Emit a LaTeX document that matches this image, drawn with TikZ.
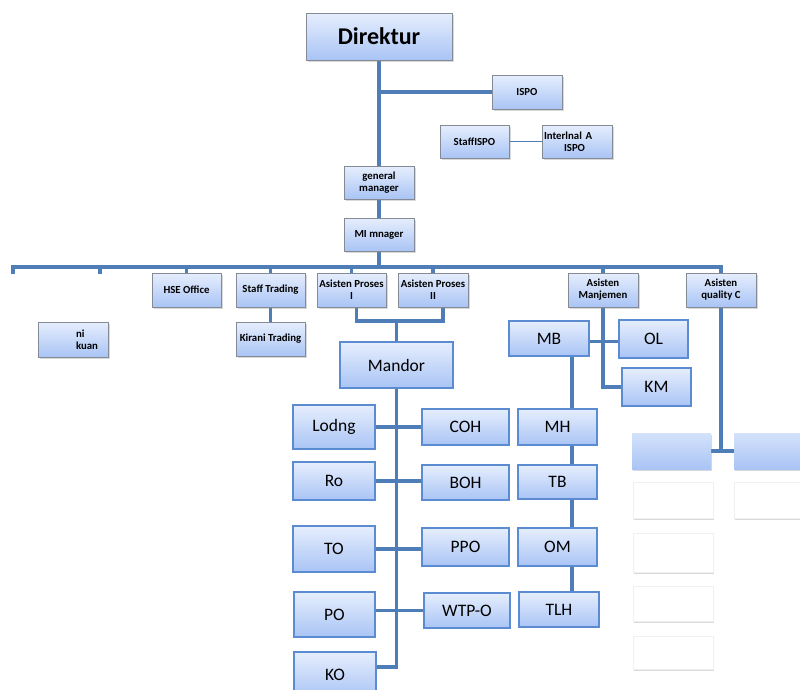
\documentclass[tikz,border=0pt]{standalone}
\usepackage{fontspec}
\setmainfont{Carlito}
\usetikzlibrary{positioning, shadows, backgrounds}

\definecolor{boxtop}{HTML}{E6EEFD}
\definecolor{boxbot}{HTML}{A9C4F5}
\definecolor{boxedge}{HTML}{5B8BD0}
\definecolor{greyedge}{HTML}{858B94}
\definecolor{linkblue}{HTML}{4E7DB8}

\begin{document}
\begin{tikzpicture}[x=1pt, y=-1pt,
    box/.style={top color=boxtop, bottom color=boxbot, inner sep=0pt, align=center},
    small/.style={box, draw=greyedge, line width=0.9pt,
        drop shadow={shadow xshift=1.5pt, shadow yshift=-1.5pt, opacity=.3},
        minimum width=70pt, minimum height=34pt,
        font=\bfseries\fontsize{10.8}{12}\selectfont},
    big/.style={box, draw=boxedge, line width=1.8pt,
        font=\fontsize{17.5}{19}\selectfont},
    blank/.style={top color=boxtop!70!boxbot, bottom color=boxbot, inner sep=0pt,
        minimum width=79pt, minimum height=36pt,
        drop shadow={shadow xshift=1pt, shadow yshift=-1.5pt, opacity=.3}},
    empty/.style={fill=white, draw=black!6, inner sep=0pt,
        minimum width=80pt, drop shadow={shadow xshift=1pt, shadow yshift=-1.5pt, opacity=.3}},
    conn/.style={draw=linkblue, line width=3.5pt},
    thin/.style={draw=linkblue, line width=1.5pt}]
    \useasboundingbox (0,0) rectangle (800,689);

    % top of the chart
    \node[small, minimum width=146pt, minimum height=47pt,
          font=\bfseries\fontsize{24}{26}\selectfont]        (direktur)  at (379,36.5)   {Direktur};
    \node[small]                                           (ispo)      at (527,92)     {ISPO};
    \node[small, minimum width=69pt, minimum height=33pt]  (staffispo) at (474.5,141.5) {StaffISPO};
    \node[small, minimum height=33pt, text width=66pt, align=left]
                                                           (internal)  at (577,141.5)  {Interlnal A\\\hspace*{20pt}ISPO};
    \node[small, minimum height=33pt]                      (gm)        at (379,182.5)  {general\\manager};
    \node[small, minimum height=33pt]                      (mi)        at (379,234.5)  {MI mnager};

    % second row
    \node[small, minimum width=69pt]                       (hse)       at (186.5,290)  {HSE Office};
    \node[small, minimum width=69pt]                       (strading)  at (270.5,290)  {Staff Trading};
    \node[small, minimum width=69pt]                       (api)       at (351.5,290)  {Asisten Proses\\I};
    \node[small]                                           (apii)      at (433,290)    {Asisten Proses\\II};
    \node[small]                                           (am)        at (603,290)    {Asisten\\Manjemen};
    \node[small]                                           (aq)        at (721,290)    {Asisten\\quality C};
    \node[small, minimum width=69pt]                       (kirani)    at (270.5,339)  {Kirani Trading};
    \node[small, minimum height=35pt, text width=62pt, align=left]
                                                           (nikuan)    at (73,339.5)   {\hspace*{34pt}ni\\\hspace*{34pt}kuan};

    % proses
    \node[big, minimum width=113pt, minimum height=46pt]   (mandor)    at (396.5,365)  {Mandor};
    \node[big, minimum width=82pt, minimum height=44pt]    (lodng)     at (334,427)    {Lodng};
    \node[big, minimum width=87pt, minimum height=36pt]    (coh)       at (465.5,427)  {COH};
    \node[big, minimum width=82pt, minimum height=38pt]    (ro)        at (334,481)    {Ro};
    \node[big, minimum width=87pt, minimum height=35pt]    (boh)       at (465.5,482.5) {BOH};
    \node[big, minimum width=82pt, minimum height=46pt]    (to)        at (334,549)    {TO};
    \node[big, minimum width=87pt, minimum height=38pt]    (ppo)       at (465.5,547)  {PPO};
    \node[big, minimum width=81pt, minimum height=45pt]    (po)        at (334.5,614.5) {PO};
    \node[big, minimum width=86pt, minimum height=35pt]    (wtpo)      at (467,610.5)  {WTP-O};
    \node[big, minimum width=82pt, minimum height=46pt]    (ko)        at (335,675)    {KO};

    % manajemen
    \node[big, minimum width=80pt, minimum height=35pt]    (mb)        at (549,338.5)  {MB};
    \node[big, minimum width=69pt, minimum height=38pt]    (ol)        at (653.5,339)  {OL};
    \node[big, minimum width=69pt, minimum height=38pt]    (km)        at (656.5,387)  {KM};
    \node[big, minimum width=79pt, minimum height=36pt]    (mh)        at (557.5,427)  {MH};
    \node[big, minimum width=79pt, minimum height=34pt]    (tb)        at (557.5,482)  {TB};
    \node[big, minimum width=79pt, minimum height=38pt]    (om)        at (557.5,547)  {OM};
    \node[big, minimum width=80pt, minimum height=35pt]    (tlh)       at (559,609.5)  {TLH};

    % quality
    \node[blank]                                           (qb1)       at (671.5,451)  {};
    \node[blank, minimum width=80pt]                       (qb2)       at (774,451)    {};
    \node[empty, minimum height=36pt]                      (qw1)       at (673,500)    {};
    \node[empty, minimum height=39pt]                      (qw2)       at (673,552.5)  {};
    \node[empty, minimum height=35pt]                      (qw3)       at (673,603.5)  {};
    \node[empty, minimum height=33pt]                      (qw4)       at (673,652.5)  {};
    \node[empty, minimum height=36pt]                      (qw5)       at (774,500)    {};

    \coordinate (busR)   at (721,267);
    \coordinate (tickA)  at (13,274);
    \coordinate (tickB)  at (100,274);
    \coordinate (apjoin) at (396.5,321);

    \begin{scope}[on background layer]
        \draw[conn] (direktur.south) -- (gm.north);
        \draw[conn] (ispo.west) -- (ispo.west -| direktur.south);
        \draw[thin] (staffispo.east) -- (internal.west);
        \draw[conn] (gm.south) -- (mi.north);
        \draw[conn] (mi.south) -- (mi.south |- busR);
        \draw[conn] (tickA) |- (busR) -- (aq.north);
        \draw[conn] (tickB) -- (tickB |- busR);
        \foreach \n in {hse, strading, api, apii, am}
            \draw[conn] (\n.north) -- (\n.north |- busR);
        \draw[conn] (strading.south) -- (kirani.north);

        \draw[conn] ([xshift=5pt]api.south) |- (apjoin) -| ([xshift=10pt]apii.south);
        \draw[conn] (apjoin) -- (mandor.north);
        \draw[conn] (mandor.south) |- ([yshift=8pt]ko.east);
        \draw[conn] (lodng.east) -- (lodng.east -| coh.west);
        \draw[conn] (ro.east) -- (ro.east -| boh.west);
        \draw[conn] (to.east) -- (to.east -| ppo.west);
        \draw[conn] (wtpo.west) -- (wtpo.west -| po.east);

        \draw[conn] (am.south) |- (km.west);
        \draw[conn] ([yshift=-3pt]mb.east) -- ([yshift=-3pt]mb.east -| ol.west);
        \draw[conn] ([xshift=23pt]mb.south) -- ([xshift=23pt]mb.south |- tlh.north);

        \draw[conn] (aq.south) -- (aq.south |- qb1.east);
        \draw[conn] (qb1.east) -- (qb2.west);
    \end{scope}
\end{tikzpicture}
\end{document}
